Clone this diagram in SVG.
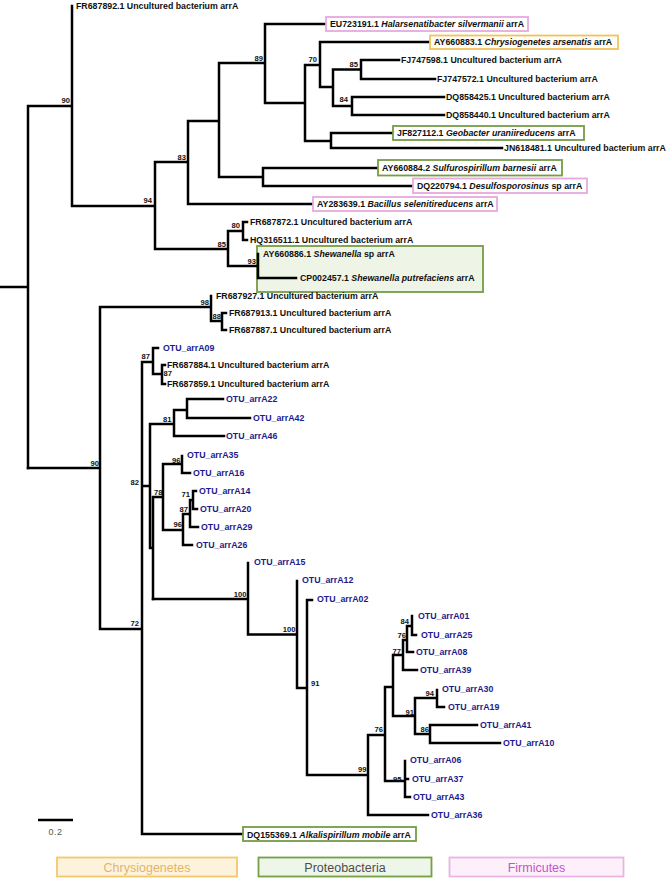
<svg xmlns="http://www.w3.org/2000/svg" width="667" height="880" viewBox="0 0 667 880">
<style>
.br{fill:none;stroke:#000;stroke-width:2.5;stroke-linecap:square}
.t{font-family:"Liberation Sans",Arial,sans-serif;font-weight:bold;font-size:8.8px;fill:#111}
.o{font-family:"Liberation Sans",Arial,sans-serif;font-weight:bold;font-size:8.8px;fill:#1c1c8c}
.bs{font-family:"Liberation Sans",Arial,sans-serif;font-weight:bold;font-size:7.6px;fill:#111;text-anchor:end}
.i{font-style:italic}
.pk{fill:#fff;stroke:#e6a9de;stroke-width:1.8}
.ye{fill:#fffdf5;stroke:#f1c35e;stroke-width:1.8}
.gr{fill:#fff;stroke:#769c45;stroke-width:1.8}
.lg{font-family:"Liberation Sans",Arial,sans-serif;font-size:12.5px;text-anchor:middle}
</style>
<rect width="667" height="880" fill="#fff"/>
<g id="shewanella-box"><rect x="257" y="246" width="226" height="46" fill="#eef5e7" stroke="#769c45" stroke-width="1.8"/></g>
<g id="branches">
<path class="br" d="M0 287H28M28 106V468M28 106H72M72 6V206M72 206H155M155 162V249M155 162H188M188 121V204M188 204H313M188 121H219M219 63V177M219 63H265M265 24V103M265 24H326M265 103H305M305 65V141M305 65H320M320 42V87M320 42H430M320 87H333M333 69.5V106M333 69.5H361M361 60V79M361 60H399M361 79H435M333 106H352M352 97V115M352 97H444M352 115H444M305 141H331M331 133V148M331 133H393M331 148H502M219 177H263M263 168V186M263 168H378M263 186H413M155 249H228M228 231V266M228 231H243M243 222V240M243 222H247M243 240H247M228 266H258M258 254V278M258 278H296"/>
<path class="br" d="M28 468H100M100 307V629M100 307H211M211 296V321M211 321H222M222 313V330M222 313H226M222 330H226M100 629H142M142 362V834M142 834H243M142 362H153M153 348V374M153 348H158M153 374H162M162 365V384M162 365H165M162 384H165M142 486H150M150 424V548M150 424H174M174 410V436M174 410H187M187 399V418M187 399H223M187 418H250M174 436H224M150 548H153M153 497V599M153 497H163M163 464V530M163 464H182M182 456V473M182 473H190M163 530H183M183 515V545M183 545H192M183 514H190M190 500V527M190 527H198M190 500H193M193 491V509M193 491H196M193 509H197"/>
<path class="br" d="M153 599H248M248 563V634.5M248 634.5H297M297 581V688M297 688H307M307 600V775M307 600H312M307 775H368M368 735V815M368 815H428M368 735H385M385 687V781M385 687H393M393 655V716M393 655H403M403 640V670M403 670H417M403 640H407M407 626V652M407 652H413M407 626H412M412 616V635M412 635H416M393 716H415M415 698V734M415 698H437M437 690V707M437 707H444M415 734H430M430 725V743M430 725H477M430 743H500M385 781H405M405 761V797M405 779H408M405 797H410"/>
</g>
<g id="bootstrap">
<text class="bs" x="70" y="103">90</text>
<text class="bs" x="263" y="61">89</text>
<text class="bs" x="317" y="62">70</text>
<text class="bs" x="358" y="67">85</text>
<text class="bs" x="348" y="102">84</text>
<text class="bs" x="186" y="160">83</text>
<text class="bs" x="152" y="203">94</text>
<text class="bs" x="240" y="228">80</text>
<text class="bs" x="226" y="247">85</text>
<text class="bs" x="256" y="264">93</text>
<text class="bs" x="209" y="305">98</text>
<text class="bs" x="221" y="319">88</text>
<text class="bs" x="150" y="359">87</text>
<text class="bs" x="172" y="376">87</text>
<text class="bs" x="171.5" y="422">81</text>
<text class="bs" x="99" y="466">90</text>
<text class="bs" x="139" y="485">82</text>
<text class="bs" x="162.5" y="495">78</text>
<text class="bs" x="180.5" y="463">96</text>
<text class="bs" x="190" y="497">71</text>
<text class="bs" x="188" y="512">87</text>
<text class="bs" x="182" y="527">96</text>
<text class="bs" x="246.5" y="597">100</text>
<text class="bs" x="139" y="626">72</text>
<text class="bs" x="295.5" y="632">100</text>
<text class="bs" x="319.5" y="686">91</text>
<text class="bs" x="409" y="623.5">84</text>
<text class="bs" x="406" y="638">76</text>
<text class="bs" x="401" y="654">77</text>
<text class="bs" x="434" y="696">94</text>
<text class="bs" x="414" y="714.5">91</text>
<text class="bs" x="429" y="732">86</text>
<text class="bs" x="383" y="732">76</text>
<text class="bs" x="401.5" y="782">95</text>
<text class="bs" x="366.5" y="772">99</text>
</g>
<g id="tip-FR687892"><text class="t" x="76" y="9">FR687892.1 Uncultured bacterium arrA</text></g>
<g id="tip-EU723191"><rect class="pk" x="326" y="17" width="202" height="14"/><text class="t" x="330" y="27">EU723191.1 <tspan class="i">Halarsenatibacter silvermanii</tspan> arrA</text></g>
<g id="tip-AY660883"><rect class="ye" x="430" y="35.5" width="188" height="13.5"/><text class="t" x="434" y="45">AY660883.1 <tspan class="i">Chrysiogenetes arsenatis</tspan> arrA</text></g>
<g id="tip-FJ747598"><text class="t" x="401" y="63">FJ747598.1 Uncultured bacterium arrA</text></g>
<g id="tip-FJ747572"><text class="t" x="437" y="82">FJ747572.1 Uncultured bacterium arrA</text></g>
<g id="tip-DQ858425"><text class="t" x="446" y="100">DQ858425.1 Uncultured bacterium arrA</text></g>
<g id="tip-DQ858440"><text class="t" x="446" y="118">DQ858440.1 Uncultured bacterium arrA</text></g>
<g id="tip-JF827112"><rect class="gr" x="393" y="126" width="191" height="14"/><text class="t" x="397" y="136">JF827112.1 <tspan class="i">Geobacter uraniireducens</tspan> arrA</text></g>
<g id="tip-JN618481"><text class="t" x="504" y="151">JN618481.1 Uncultured bacterium arrA</text></g>
<g id="tip-AY660884"><rect class="gr" x="378" y="160" width="184" height="15.5"/><text class="t" x="382" y="171">AY660884.2 <tspan class="i">Sulfurospirillum barnesii</tspan> arrA</text></g>
<g id="tip-DQ220794"><rect class="pk" x="413" y="178.5" width="174" height="14.5"/><text class="t" x="417" y="189">DQ220794.1 <tspan class="i">Desulfosporosinus</tspan> sp arrA</text></g>
<g id="tip-AY283639"><rect class="pk" x="313" y="197" width="184" height="14"/><text class="t" x="317" y="207">AY283639.1 <tspan class="i">Bacillus selenitireducens</tspan> arrA</text></g>
<g id="tip-FR687872"><text class="t" x="250" y="225">FR687872.1 Uncultured bacterium arrA</text></g>
<g id="tip-HQ316511"><text class="t" x="250" y="243">HQ316511.1 Uncultured bacterium arrA</text></g>
<g id="tip-AY660886"><text class="t" x="263" y="257">AY660886.1 <tspan class="i">Shewanella</tspan> sp arrA</text></g>
<g id="tip-CP002457"><text class="t" x="300" y="281">CP002457.1 <tspan class="i">Shewanella putrefaciens</tspan> arrA</text></g>
<g id="tip-FR687927"><text class="t" x="216" y="299">FR687927.1 Uncultured bacterium arrA</text></g>
<g id="tip-FR687913"><text class="t" x="229" y="316">FR687913.1 Uncultured bacterium arrA</text></g>
<g id="tip-FR687887"><text class="t" x="229" y="333">FR687887.1 Uncultured bacterium arrA</text></g>
<g id="tip-A09"><text class="o" x="163" y="351">OTU_arrA09</text></g>
<g id="tip-FR687884"><text class="t" x="167" y="368">FR687884.1 Uncultured bacterium arrA</text></g>
<g id="tip-FR687859"><text class="t" x="167" y="387">FR687859.1 Uncultured bacterium arrA</text></g>
<g id="tip-A22"><text class="o" x="226" y="402">OTU_arrA22</text></g>
<g id="tip-A42"><text class="o" x="253" y="421">OTU_arrA42</text></g>
<g id="tip-A46"><text class="o" x="226" y="439">OTU_arrA46</text></g>
<g id="tip-A35"><text class="o" x="187" y="458">OTU_arrA35</text></g>
<g id="tip-A16"><text class="o" x="193" y="476">OTU_arrA16</text></g>
<g id="tip-A14"><text class="o" x="199" y="494">OTU_arrA14</text></g>
<g id="tip-A20"><text class="o" x="200" y="512">OTU_arrA20</text></g>
<g id="tip-A29"><text class="o" x="201" y="530">OTU_arrA29</text></g>
<g id="tip-A26"><text class="o" x="196" y="548">OTU_arrA26</text></g>
<g id="tip-A15"><text class="o" x="254" y="565">OTU_arrA15</text></g>
<g id="tip-A12"><text class="o" x="302" y="583">OTU_arrA12</text></g>
<g id="tip-A02"><text class="o" x="317" y="602">OTU_arrA02</text></g>
<g id="tip-A01"><text class="o" x="418" y="619">OTU_arrA01</text></g>
<g id="tip-A25"><text class="o" x="421" y="638">OTU_arrA25</text></g>
<g id="tip-A08"><text class="o" x="416" y="655">OTU_arrA08</text></g>
<g id="tip-A39"><text class="o" x="420" y="673">OTU_arrA39</text></g>
<g id="tip-A30"><text class="o" x="442" y="692">OTU_arrA30</text></g>
<g id="tip-A19"><text class="o" x="448" y="710">OTU_arrA19</text></g>
<g id="tip-A41"><text class="o" x="480" y="728">OTU_arrA41</text></g>
<g id="tip-A10"><text class="o" x="503" y="746">OTU_arrA10</text></g>
<g id="tip-A06"><text class="o" x="410" y="763">OTU_arrA06</text></g>
<g id="tip-A37"><text class="o" x="412" y="782">OTU_arrA37</text></g>
<g id="tip-A43"><text class="o" x="413" y="800">OTU_arrA43</text></g>
<g id="tip-A36"><text class="o" x="431" y="818">OTU_arrA36</text></g>
<g id="tip-DQ155369"><rect class="gr" x="243" y="827" width="173" height="14"/><text class="t" x="247" y="837.5">DQ155369.1 <tspan class="i">Alkalispirillum mobile</tspan> arrA</text></g>
<g id="scale"><path d="M38 820H73" stroke="#000" stroke-width="2.5"/><text x="55.5" y="834.5" font-family="'Liberation Sans',Arial,sans-serif" font-size="9" fill="#555" text-anchor="middle" letter-spacing="0.5">0.2</text></g>
<g id="legend-chrysiogenetes"><rect x="57" y="857.5" width="180" height="19" fill="#fdf3dd" stroke="#f3c86b" stroke-width="1.8"/><text class="lg" x="147" y="871.5" fill="#e4b46a">Chrysiogenetes</text></g>
<g id="legend-proteobacteria"><rect x="258.5" y="857.5" width="173" height="19" fill="#eef6ea" stroke="#74a044" stroke-width="1.8"/><text class="lg" x="345" y="871.5" fill="#4d4d4d">Proteobacteria</text></g>
<g id="legend-firmicutes"><rect x="449.5" y="857.5" width="174" height="19" fill="#fdf0fb" stroke="#eab3e6" stroke-width="1.8"/><text class="lg" x="536.5" y="871.5" fill="#c256c6">Firmicutes</text></g>
</svg>
